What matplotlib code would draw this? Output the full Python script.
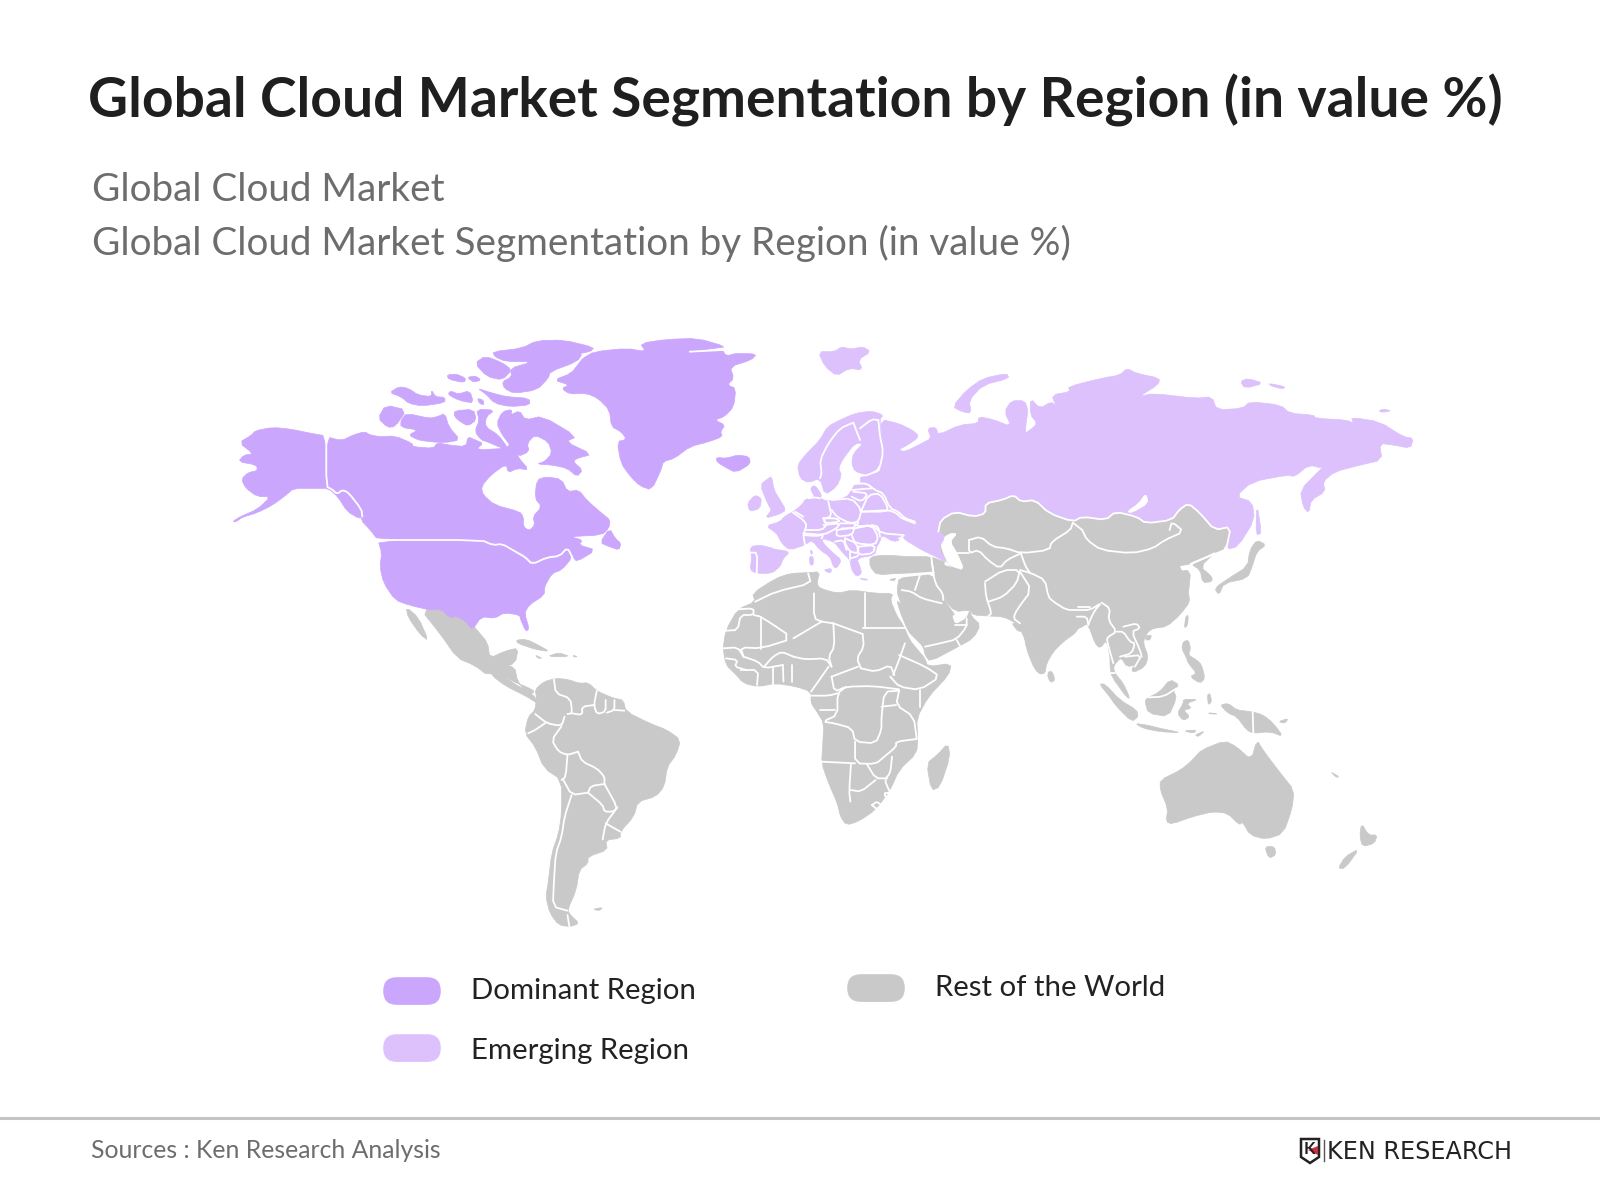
import matplotlib
matplotlib.use("Agg")
import matplotlib.pyplot as plt
from matplotlib.patches import Polygon, FancyBboxPatch

plt.rcParams['font.family'] = ['Lato', 'DejaVu Sans']

TITLE = "Global Cloud Market Segmentation by Region (in value %)"
SUBTITLE_1 = "Global Cloud Market"
SUBTITLE_2 = "Global Cloud Market Segmentation by Region (in value %)"
SOURCE = "Sources : Ken Research Analysis"
LEGEND_LABELS = ["Dominant Region", "Emerging Region", "Rest of the World"]
DOMINANT = "#cba6fd"
EMERGING = "#dcc1fd"
REST = "#c9c9c9"

# Survey frames: (origin x, origin y, x scale, y scale)
F1 = (200, 320, 2.613, 3.0)
F2 = (700, 340, 2.119, 3.0)
F3 = (500, 560, 1.704, 3.0)
FM = (0, 0, 0.98, 0.98)
FE = (740, 410, 3.0, 3.0)
FW = (860, 560, 3.0, 3.0)
FA = (1020, 560, 3.0, 3.0)

# ---- Dominant region (F1)
ALASKA = [(85,605),(105,590),(150,568),(185,530),(150,530),(120,505),(108,478),(125,458),(150,452),(148,435),(100,425),(115,405),(140,402),(102,368),(135,345),(145,332),(190,322),(240,328),(290,340),(330,348),(330,503),(345,510),(355,522),(370,510),(385,515),(420,565),(425,590),(415,595),(385,575),(360,530),(335,505),(300,505),(245,505),(225,525),(190,555),(150,578),(110,592),(95,605)]
CANADA = [(330,350),(370,362),(400,345),(430,335),(445,345),(470,350),(510,348),(555,370),(555,380),(610,385),(620,368),(650,375),(695,380),(700,350),(720,360),(740,370),(720,390),(800,385),(815,365),(830,410),(860,450),(830,445),(805,458),(800,432),(760,465),(735,500),(740,525),(770,555),(835,575),(845,590),(845,620),(860,632),(875,615),(870,590),(893,560),(875,535),(880,480),(905,470),(945,478),(960,515),(990,510),(1010,540),(1050,580),(1072,600),(1068,625),(1050,645),(965,650),(1000,660),(990,675),(1035,690),(985,725),(975,712),(960,682),(940,705),(905,710),(870,730),(850,705),(820,690),(790,672),(765,675),(735,660),(465,660),(445,630),(420,600),(425,570),(390,520),(372,510),(358,522),(345,505),(330,498)]
USA = [(465,660),(735,660),(760,675),(790,672),(820,692),(850,708),(868,733),(905,713),(940,708),(960,683),(973,712),(945,750),(920,760),(900,800),(900,825),(860,855),(848,880),(860,925),(852,935),(838,900),(835,885),(795,878),(770,895),(735,890),(712,930),(695,905),(670,888),(655,895),(630,868),(600,870),(545,855),(510,840),(480,790),(470,740),(475,700)]
NEWFOUNDLAND = [(1045,668),(1070,625),(1085,655),(1100,670),(1095,690),(1070,680)]
BAFFIN = [(812,285),(835,272),(850,300),(895,288),(985,350),(955,365),(1025,403),(985,415),(975,425),(1000,450),(985,470),(960,445),(920,435),(880,432),(900,425),(920,400),(910,365),(875,345),(855,370),(860,395),(830,410),(810,375),(790,345),(775,310),(790,275),(815,268)]
VICTORIA = [(525,300),(540,280),(600,295),(620,290),(640,280),(650,320),(680,360),(640,368),(600,365),(570,360),(545,345),(570,330),(525,322)]
BANKS = [(465,295),(485,255),(540,270),(510,320),(490,322)]
MELVILLE = [(495,218),(520,200),(545,205),(570,225),(605,230),(605,210),(615,230),(640,232),(640,248),(580,258),(545,250),(525,230)]
BATHURST = [(648,222),(655,213),(675,222),(705,212),(715,248),(690,245),(665,235)]
SMALL_A = [(645,165),(670,162),(695,175),(690,188),(650,178)]
SMALL_B = [(698,172),(720,168),(735,180),(715,187)]
DEVON = [(725,205),(760,218),(800,230),(860,235),(862,255),(810,260),(770,250),(745,220)]
SMALL_C = [(725,235),(740,240),(742,255),(730,250)]
ELLESMERE = [(765,95),(840,85),(880,62),(950,60),(1030,82),(1020,95),(970,105),(1000,100),(985,125),(915,155),(910,175),(880,210),(820,220),(795,205),(790,185),(815,170),(810,145),(870,125),(800,125),(770,110)]
AXEL = [(718,130),(745,108),(790,128),(815,150),(790,180),(750,170)]
SOMERSET = [(665,272),(715,268),(722,300),(700,318),(680,305),(665,290)]
BOOTHIA = [(722,268),(770,270),(748,290),(745,320),(780,345),(805,385),(790,385),(750,365),(735,360),(718,335),(730,300)]
GREENLAND = [(1000,115),(1030,95),(1115,85),(1165,95),(1150,70),(1220,58),(1300,55),(1375,80),(1345,85),(1280,95),(1365,90),(1375,108),(1400,100),(1455,102),(1440,120),(1385,140),(1395,175),(1378,195),(1400,205),(1395,260),(1370,290),(1345,300),(1372,315),(1360,335),(1365,350),(1330,365),(1280,380),(1240,415),(1210,425),(1205,450),(1180,510),(1150,498),(1125,470),(1100,430),(1090,365),(1115,358),(1100,335),(1075,320),(1070,270),(1040,235),(1010,220),(965,222),(945,205),(965,195),(925,180),(970,160),(990,130)]
ICELAND = [(1350,412),(1375,415),(1405,405),(1435,410),(1438,432),(1400,458),(1370,440),(1350,425)]
DOMINANT_SHAPES = [ALASKA, CANADA, USA, NEWFOUNDLAND, BAFFIN, VICTORIA, BANKS, MELVILLE, BATHURST, SMALL_A, SMALL_B, DEVON, SMALL_C, ELLESMERE, AXEL, SOMERSET, BOOTHIA, GREENLAND, ICELAND]
DOMINANT_BORDERS = [
    [(330,348),(330,500),(345,508),(358,522),(372,510),(388,518),(422,568),(424,590)],
    [(465,660),(735,660),(765,675),(790,672),(820,692),(850,712),(868,733),(905,713),(940,708),(960,683),(973,712)],
    [(1280,95),(1365,90)],
]

# ---- Emerging region
RUSSIA = [(383,238),(420,250),(450,270),(465,290),(440,315),(420,330),(435,335),(470,310),(490,295),(482,265),(500,262),(505,285),(550,255),(590,250),(590,230),(620,238),(660,260),(645,215),(660,182),(688,182),(695,210),(690,260),(690,285),(670,295),(700,270),(715,250),(700,225),(700,175),(720,205),(745,185),(755,200),(745,165),(785,155),(780,140),(850,115),(890,105),(905,85),(925,100),(975,115),(970,135),(930,170),(960,160),(1050,175),(1085,170),(1095,210),(1150,205),(1165,185),(1230,195),(1250,220),(1300,225),(1305,235),(1370,240),(1385,250),(1380,232),(1440,245),(1490,290),(1512,295),(1505,325),(1470,315),(1440,310),(1445,360),(1400,375),(1345,395),(1320,425),(1325,455),(1295,480),(1290,520),(1278,500),(1272,450),(1310,395),(1335,360),(1320,385),(1290,375),(1260,410),(1245,405),(1170,425),(1135,470),(1170,485),(1175,540),(1140,620),(1115,628),(1125,560),(1090,570),(1060,520),(1035,490),(1015,510),(1000,540),(945,550),(925,530),(880,515),(860,540),(810,530),(790,545),(740,520),(710,480),(680,485),(665,465),(640,480),(605,490),(605,520),(580,530),(540,515),(510,540),(505,575),(520,590),(505,625),(525,670),(500,650),(470,630),(435,600),(430,590),(455,570),(455,540),(420,530),(400,510),(400,490),(370,460),(340,430),(340,405),(380,400),(385,370),(385,300)]
SVALBARD = [(250,35),(285,35),(300,20),(320,28),(345,20),(362,35),(335,60),(345,90),(315,85),(290,108),(265,80)]
NOVAYA = [(535,200),(565,150),(600,115),(650,100),(655,115),(600,135),(570,180),(575,220),(555,215)]
SIBERIAN_A = [(1145,125),(1160,115),(1195,130),(1155,145)]
SIBERIAN_B = [(1205,130),(1240,140),(1235,147),(1210,138)]
WRANGEL = [(1438,212),(1450,207),(1465,213),(1445,217)]
SAKHALIN = [(1180,490),(1190,580),(1178,585)]
LAKE_BAIKAL = [(945,460),(950,490),(915,518),(905,515),(930,490)]
EMERGING_SHAPES_F2 = [RUSSIA, SVALBARD, NOVAYA, SIBERIAN_A, SIBERIAN_B, WRANGEL, SAKHALIN]

# Europe (FE)
NORDIC = [(172,165),(200,130),(240,90),(262,50),(300,30),(345,10),(395,3),(430,15),(418,30),(430,120),(415,178),(385,195),(345,185),(335,160),(340,130),(370,100),(345,100),(310,145),(295,175),(305,195),(290,230),(255,255),(240,205),(205,218),(180,205)]
EUROPE = [(335,240),(345,222),(380,220),(405,240),(430,250),(450,295),(475,305),(495,325),(525,335),(520,365),(490,375),(470,385),(480,390),(460,395),(425,375),(420,395),(410,410),(405,435),(350,445),(360,470),(365,490),(350,500),(335,480),(330,450),(310,430),(290,405),(280,395),(245,385),(250,400),(280,430),(305,450),(290,475),(280,470),(270,440),(240,420),(215,390),(195,405),(150,420),(130,405),(120,390),(110,370),(78,348),(120,335),(135,318),(160,305),(185,285),(195,270),(205,265),(225,262),(210,235),(225,225),(245,255),(240,265),(265,275),(320,262)]
IBERIA = [(30,410),(60,405),(100,415),(150,425),(130,445),(120,470),(95,490),(50,490),(30,480),(35,445)]
BRITAIN = [(85,205),(95,200),(102,240),(120,270),(138,300),(120,312),(75,325),(95,300),(85,285),(60,225)]
IRELAND = [(22,280),(45,255),(65,265),(60,295),(30,305)]
CORSICA = [(210,420),(218,425),(215,435)]
SARDINIA = [(208,440),(220,440),(220,465),(210,465)]
SICILY = [(250,480),(275,475),(272,490)]
CRETE = [(358,505),(385,508),(375,511)]
EMERGING_SHAPES_FE = [NORDIC, EUROPE, IBERIA, BRITAIN, IRELAND, CORSICA, SARDINIA, SICILY, CRETE]
EMERGING_BORDERS_FE = [
    [(340,38),(300,55),(265,100),(240,150),(245,190),(240,205)],
    [(340,38),(360,90)],
    [(360,55),(395,28),(415,30)],
    [(415,30),(420,80),(430,125),(418,178),(385,195),(360,198)],
    [(345,222),(380,220),(405,240),(430,250),(450,295),(475,305),(495,325),(525,335)],
    [(158,307),(190,330),(200,345),(190,375),(195,405)],
    [(165,305),(190,320)],
    [(205,265),(225,262),(240,265)],
    [(265,275),(275,320),(250,325),(260,345),(245,360),(200,360)],
    [(275,270),(335,265),(365,300),(355,335),(330,340),(290,320),(275,300)],
    [(335,240),(395,235)],
    [(340,245),(385,250),(365,275),(335,260)],
    [(365,300),(385,255),(420,250),(445,295),(435,305),(365,305)],
    [(365,305),(445,300),(470,310),(485,325),(525,340)],
    [(490,375),(425,370),(395,345),(350,350),(355,335)],
    [(250,325),(290,325),(300,335),(255,340),(250,325)],
    [(250,345),(300,340),(290,355),(250,375),(190,370)],
    [(300,340),(350,340),(340,355),(305,355)],
    [(290,360),(345,352),(335,375),(290,380),(290,360)],
    [(345,355),(395,345),(415,380),(405,405),(345,400),(335,375)],
    [(395,345),(415,350),(420,380)],
    [(355,410),(405,405),(400,430),(355,435),(355,410)],
    [(190,375),(225,378),(250,375),(245,385)],
    [(315,385),(350,400),(355,430),(330,425),(315,400),(315,385)],
    [(285,395),(310,390),(320,420)],
    [(330,445),(350,440),(355,435)],
    [(330,425),(330,450)],
    [(30,428),(52,428),(50,490)],
    [(145,420),(100,413)],
]

# ---- Rest of the world (F2)
ASIA_NORTH = [(505,575),(510,540),(540,515),(580,530),(605,520),(605,490),(640,480),(665,465),(680,485),(710,480),(740,520),(790,545),(810,530),(860,540),(880,515),(925,530),(945,550),(1000,540),(1015,510),(1035,490),(1060,520),(1090,570),(1125,560),(1115,628),(1095,640),(1050,665),(1040,672),(1005,680),(1010,695),(1040,690),(1035,760),(1030,800),(600,800),(545,695),(525,670),(505,625),(520,590)]
KOREA = [(1040,672),(1090,640),(1060,680),(1085,710),(1085,725),(1065,728),(1060,690)]
TURKEY = [(360,650),(395,645),(440,650),(490,650),(525,670),(490,700),(420,700),(375,705),(360,680)]
JAPAN = [(1180,600),(1200,615),(1180,635),(1170,680),(1160,715),(1110,730),(1100,765),(1090,745),(1120,715),(1160,680),(1165,630)]
CYPRUS = [(400,720),(415,714),(412,722)]
CASPIAN = [(510,600),(530,580),(545,580),(530,605),(545,640),(560,690),(535,680),(525,670),(512,625)]
REST_SHAPES_F2 = [ASIA_NORTH, KOREA, TURKEY, JAPAN, CYPRUS]
REST_BORDERS_F2 = [
    [(505,575),(510,540),(540,515),(580,530),(605,520),(605,490),(640,480),(665,465),(680,485),(710,480),(740,520),(790,545),(810,530),(860,540),(880,515),(925,530),(945,550),(1000,540),(1015,510),(1035,490),(1060,520),(1090,570),(1125,560),(1115,628),(1095,640),(1050,665),(1040,672)],
    [(570,600),(595,590),(620,620),(650,625),(680,640),(740,630),(745,605),(785,570),(790,548)],
    [(810,570),(820,600),(850,630),(915,640),(960,625),(985,600),(1025,575),(1000,545),(995,570)],
    [(790,548),(810,570)],
    [(570,600),(570,640),(590,630),(610,660),(635,685),(650,660),(680,640)],
    [(545,640),(570,640)],
    [(680,640),(690,680),(700,700)],
    [(490,650),(495,700)],
    [(425,710),(490,700)],
    [(1040,672),(1060,660),(1090,640)],
]

# West and South Asia (FW)
ARABIA = [(118,50),(215,35),(250,115),(270,145),(285,165),(275,165),(285,195),(320,175),(330,150),(335,170),(362,195),(340,235),(295,260),(210,305),(195,285),(190,260),(165,235),(145,215),(120,155),(110,120),(125,135),(110,95)]
SOUTH_ASIA = [(215,5),(300,30),(400,0),(720,0),(720,240),(700,205),(690,185),(660,205),(640,205),(580,260),(565,290),(545,345),(525,330),(500,270),(490,212),(475,215),(455,190),(470,190),(430,170),(385,168),(340,165),(330,150),(285,155),(250,115),(225,80)]
REST_SHAPES_FW = [ARABIA, SOUTH_ASIA]
REST_BORDERS_FW = [
    [(215,5),(225,70),(248,100),(250,120)],
    [(120,45),(215,38)],
    [(180,45),(165,90)],
    [(125,90),(155,95),(185,115),(245,130)],
    [(195,260),(240,250),(290,238),(320,200),(320,175)],
    [(290,240),(300,258)],
    [(285,195),(320,195)],
    [(375,70),(378,110),(395,160),(385,168)],
    [(375,65),(430,30),(480,30),(470,70),(430,110),(385,125)],
    [(480,35),(515,90),(470,150),(460,175),(480,190)],
]

# East and South-East Asia (FA)
INDOCHINA = [(0,0),(480,0),(480,30),(505,40),(480,55),(505,100),(510,125),(480,165),(440,200),(400,205),(385,215),(375,230),(370,250),(385,290),(375,320),(340,338),(335,325),(350,315),(320,320),(305,295),(295,300),(280,320),(285,340),(310,370),(330,415),(320,412),(275,350),(270,320),(270,290),(260,240),(240,265),(225,250),(205,195),(190,190),(175,205),(165,220),(130,245),(100,275),(80,310),(75,340),(60,342),(40,300),(20,250),(0,205)]
SRI_LANKA = [(85,335),(97,335),(105,360),(92,368),(83,350)]
SUMATRA = [(238,372),(255,372),(300,420),(350,450),(355,470),(335,485),(290,440),(265,405)]
JAVA = [(345,490),(380,495),(420,505),(470,515),(475,518),(420,515),(370,505)]
SUNDA_A = [(490,512),(530,510),(520,520)]
SUNDA_B = [(525,525),(555,512),(535,530)]
BORNEO = [(380,415),(420,395),(450,358),(478,375),(460,390),(470,415),(445,470),(385,460),(375,425)]
SULAWESI = [(490,418),(535,418),(500,430),(515,445),(490,450),(510,470),(490,482),(472,460),(490,430)]
PHILIPPINES = [(490,245),(505,240),(512,265),(505,285),(530,300),(545,315),(555,355),(540,370),(510,350),(530,340),(505,310),(500,295),(485,265)]
HALMAHERA = [(562,405),(570,400),(575,425),(565,435)]
PAPUA = [(600,435),(625,430),(650,450),(695,455),(730,465),(760,490),(790,530),(750,515),(700,520),(680,510),(650,470),(625,460)]
NEW_BRITAIN = [(775,485),(805,475),(795,490)]
CERAM = [(565,458),(595,462),(570,462)]
TAIWAN = [(497,170),(505,165),(503,195),(493,205)]
HAINAN = [(375,228),(395,225),(390,240),(378,240)]
REST_SHAPES_FA = [INDOCHINA, SRI_LANKA, SUMATRA, JAVA, SUNDA_A, SUNDA_B, BORNEO, SULAWESI, PHILIPPINES, HALMAHERA, PAPUA, NEW_BRITAIN, CERAM, TAIWAN, HAINAN]
REST_BORDERS_FA = [
    [(0,30),(35,40),(75,60),(85,110),(100,125),(140,150),(175,150),(210,150),(245,128),(225,150),(210,180),(205,195)],
    [(175,140),(210,140)],
    [(170,170),(200,170),(205,195)],
    [(245,128),(270,145),(265,180),(290,215),(265,230),(260,240),(280,310)],
    [(290,215),(310,215),(330,245),(345,250),(335,280),(300,290)],
    [(310,200),(350,190),(360,205),(335,215),(360,270),(365,290)],
    [(315,290),(365,285),(345,320)],
    [(270,340),(285,340)],
    [(385,412),(430,410),(470,385)],
    [(698,455),(700,520)],
]

# Americas, Africa and Oceania (F3)
SOUTH_AMERICA = [(60,388),(75,365),(95,355),(115,358),(135,370),(150,368),(165,392),(180,405),(195,415),(210,420),(215,455),(255,490),(285,510),(308,540),(300,585),(285,620),(280,680),(265,710),(235,725),(228,770),(205,815),(205,835),(180,840),(183,870),(150,890),(150,910),(135,930),(130,990),(115,1050),(120,1065),(135,1090),(120,1100),(100,1095),(85,1060),(78,1010),(82,970),(88,880),(100,820),(105,760),(105,660),(75,625),(60,560),(42,520),(48,470),(60,450),(62,410)]
FALKLAND = [(158,1048),(175,1042),(170,1052)]
AFRICA = [(470,55),(495,40),(525,38),(545,35),(540,70),(545,85),(575,100),(600,90),(640,100),(670,100),(665,120),(677,170),(687,195),(698,240),(712,270),(724,295),(729,320),(769,310),(765,345),(730,410),(710,475),(712,535),(710,580),(680,630),(665,690),(640,750),(610,785),(590,795),(580,770),(575,730),(560,670),(548,610),(550,550),(552,490),(540,455),(530,430),(530,395),(505,380),(470,370),(440,380),(415,370),(400,340),(385,315),(380,265),(385,210),(405,148),(435,125),(430,100)]
MADAGASCAR = [(763,550),(767,590),(750,680),(735,692),(727,610),(745,585)]
AUSTRALIA = [(1125,660),(1160,630),(1180,600),(1195,570),(1235,542),(1255,560),(1280,600),(1290,540),(1300,570),(1330,640),(1353,690),(1350,745),(1335,820),(1305,838),(1278,825),(1265,785),(1260,795),(1240,760),(1215,755),(1180,770),(1145,792),(1135,785),(1138,745),(1125,690)]
TASMANIA = [(1303,860),(1320,860),(1322,885),(1310,895)]
NZ_NORTH = [(1468,790),(1480,825),(1495,825),(1490,850),(1470,860),(1465,830)]
NZ_SOUTH = [(1465,865),(1440,925),(1428,925),(1440,890)]
NEW_CALEDONIA = [(1415,635),(1430,650),(1425,652)]
CUBA = [(28,240),(45,238),(65,255),(85,275),(60,268),(30,250)]
HISPANIOLA = [(80,290),(100,278),(120,290)]
JAMAICA = [(60,285),(72,295),(65,295)]
PUERTO_RICO = [(125,286),(132,290),(125,291)]
ISTHMUS = [(0,315),(25,320),(30,365),(48,405),(60,395),(45,380),(22,365),(0,335)]
REST_SHAPES_F3 = [SOUTH_AMERICA, FALKLAND, AFRICA, MADAGASCAR, AUSTRALIA, TASMANIA, NZ_NORTH, NZ_SOUTH, NEW_CALEDONIA, CUBA, HISPANIOLA, JAMAICA, PUERTO_RICO, ISTHMUS]
REST_BORDERS_F3 = [
    [(92,358),(95,400),(120,415),(123,460),(115,462)],
    [(165,392),(160,435),(165,462),(180,455),(180,420)],
    [(182,458),(195,450),(195,420)],[(195,450),(212,452)],
    [(123,460),(140,465),(140,440),(160,435)],
    [(60,462),(80,490),(105,498),(110,470)],
    [(48,520),(60,510),(78,488)],
    [(105,498),(88,540),(100,575),(115,585),(133,575)],
    [(115,585),(112,650),(105,660)],
    [(133,575),(140,605),(165,625),(178,650),(178,672)],
    [(178,672),(155,678),(150,698)],
    [(108,660),(122,705),(150,698)],
    [(150,698),(175,735),(178,755),(193,755),(200,742),(178,672)],
    [(122,705),(110,770),(105,830),(95,880),(92,960),(90,1040),(115,1052)],
    [(200,742),(180,790),(175,838)],[(180,790),(205,815)],
    [(115,1065),(118,1098)],
    [(525,40),(530,70),(470,95),(435,125)],
    [(405,148),(432,145),(432,165),(410,165),(405,210),(385,212)],
    [(432,165),(445,170),(500,235),(445,265),(410,262),(415,290)],
    [(445,170),(445,268)],
    [(500,235),(548,185)],
    [(535,100),(535,175),(548,185),(568,190)],
    [(622,100),(622,205)],
    [(568,190),(618,222)],
    [(618,205),(690,205)],
    [(568,190),(570,260),(560,290),(565,320)],
    [(618,222),(620,260),(608,295),(615,325)],
    [(615,325),(640,335),(665,315),(672,345)],
    [(690,250),(680,300),(670,345)],
    [(680,285),(725,320),(750,350),(715,390),(680,380),(665,350)],
    [(715,390),(715,440)],
    [(500,290),(520,298),(555,295),(565,320)],
    [(560,320),(530,395)],
    [(565,350),(610,320)],
    [(565,350),(570,395),(590,380),(635,378),(680,388)],
    [(590,380),(575,400),(575,465),(550,485),(570,490),(600,505),(605,545),(640,550),(650,510),(650,470),(655,395),(680,392)],
    [(530,407),(560,407),(575,400)],[(545,450),(570,450)],
    [(680,392),(675,435),(705,470),(710,535)],
    [(650,440),(675,435)],
    [(605,545),(605,610),(640,612),(655,590),(675,560),(675,545),(710,537)],
    [(548,605),(605,610)],
    [(598,612),(595,695),(597,725)],[(598,690),(615,695),(640,660)],
    [(625,612),(640,655),(660,655)],
    [(668,590),(665,640),(655,658),(665,700)],
    [(634,735),(642,725),(650,735),(642,748),(634,735)],
    [(656,700),(664,698),(664,710),(656,710),(656,700)],
    [(380,265),(405,262),(415,290)],
    [(385,295),(405,300),(400,320),(420,330)],
    [(410,330),(440,330),(438,375)],
    [(465,320),(465,378)],[(482,315),(483,365)],[(497,315),(497,365)],
    [(450,320),(465,290),(480,275),(500,290)],
    [(415,290),(440,305),(450,325),(482,315)],
]

# Mexico (FM)
MEXICO = [(412,597),(440,598),(452,600),(468,618),(478,630),(480,645),(495,638),(508,635),(505,650),(490,655),(478,662),(465,652),(448,645),(432,622)]
BAJA = [(398,595),(410,605),(420,628),(412,622),(400,605)]
CENTRAL_AM = [(478,652),(490,655),(500,668),(522,680),(528,690),(515,682),(495,672),(482,662)]

# Logo pieces
LOGO_SHIELD = [(1301,1139),(1319,1139),(1319,1157),(1310,1163),(1301,1157)]
LOGO_ARROW = [(1318,1146),(1308,1150),(1318,1155)]


def to_px(points, frame):
    ox, oy, sx, sy = frame
    return [(ox + x / sx, oy + y / sy) for x, y in points]


def soften(pts, closed):
    """One corner-cutting pass, so that the traced outlines are not faceted."""
    r = 0.22
    out = []
    n = len(pts)
    rng = range(n) if closed else range(n - 1)
    if not closed:
        out.append(pts[0])
    for i in rng:
        a, b = pts[i], pts[(i + 1) % n]
        out.append((a[0] + (b[0] - a[0]) * r, a[1] + (b[1] - a[1]) * r))
        out.append((a[0] + (b[0] - a[0]) * (1 - r), a[1] + (b[1] - a[1]) * (1 - r)))
    if not closed:
        out.append(pts[-1])
    return out


fig = plt.figure(figsize=(16, 12), dpi=100)
ax = fig.add_axes([0, 0, 1, 1])
ax.set_xlim(0, 1600)
ax.set_ylim(1200, 0)
ax.axis("off")


def fill(shapes, frame, color):
    for s in shapes:
        ax.add_patch(Polygon(soften(to_px(s, frame), True), closed=True, facecolor=color, edgecolor=color, lw=0.5, joinstyle="round"))


def borders(lines, frame):
    for ln in lines:
        pts = soften(to_px(ln, frame), False)
        ax.plot([p[0] for p in pts], [p[1] for p in pts], color="white", lw=1.3, solid_joinstyle="round", solid_capstyle="round")


fill(REST_SHAPES_F3, F3, REST)
fill(REST_SHAPES_FW, FW, REST)
fill(REST_SHAPES_FA, FA, REST)
fill(REST_SHAPES_F2, F2, REST)
fill([MEXICO, BAJA, CENTRAL_AM], FM, REST)
fill([CASPIAN], F2, "white")
fill(DOMINANT_SHAPES, F1, DOMINANT)
fill(EMERGING_SHAPES_F2, F2, EMERGING)
fill([LAKE_BAIKAL], F2, "white")
fill(EMERGING_SHAPES_FE, FE, EMERGING)
borders(DOMINANT_BORDERS, F1)
borders(EMERGING_BORDERS_FE, FE)
borders(REST_BORDERS_F2, F2)
borders(REST_BORDERS_FW, FW)
borders(REST_BORDERS_FA, FA)
borders(REST_BORDERS_F3, F3)

ax.text(88, 100, TITLE, fontsize=39.72, fontweight="bold", color="#1f1f1f", va="center", ha="left")
ax.text(91.5, 190, SUBTITLE_1, fontsize=27.85, color="#6d6d6d", va="center", ha="left")
ax.text(91.5, 243, SUBTITLE_2, fontsize=27.85, color="#6d6d6d", va="center", ha="left")


def pill(x, y, color):
    ax.add_patch(FancyBboxPatch((x + 14, y + 14), 30, 0.1, boxstyle="round,pad=13.8,rounding_size=13.8", facecolor=color, edgecolor=color, lw=0))


pill(383, 977, DOMINANT)
pill(383, 1034, EMERGING)
pill(847, 974, REST)
ax.text(471, 991, LEGEND_LABELS[0], fontsize=21.2, color="#222222", va="center", ha="left")
ax.text(471, 1051, LEGEND_LABELS[1], fontsize=21.2, color="#222222", va="center", ha="left")
ax.text(935, 988, LEGEND_LABELS[2], fontsize=21.2, color="#222222", va="center", ha="left")

ax.plot([0, 1600], [1118, 1118], color="#c4c4c4", lw=2.2)
ax.text(91, 1151, SOURCE, fontsize=17.85, color="#6d6d6d", va="center", ha="left")

ax.add_patch(Polygon(LOGO_SHIELD, closed=True, facecolor="white", edgecolor="#222222", lw=1.8))
ax.text(1309, 1149, "K", fontsize=12, fontweight="bold", color="#222222", va="center", ha="center")
ax.add_patch(Polygon(LOGO_ARROW, closed=True, facecolor="#c8313c", edgecolor="none"))
ax.plot([1324, 1324], [1140, 1161], color="#555555", lw=1)
ax.text(1327, 1152, "KEN RESEARCH", fontsize=17.2, color="#222222", va="center", ha="left", family="DejaVu Sans")

fig.savefig("out.png", dpi=100, facecolor="white")
